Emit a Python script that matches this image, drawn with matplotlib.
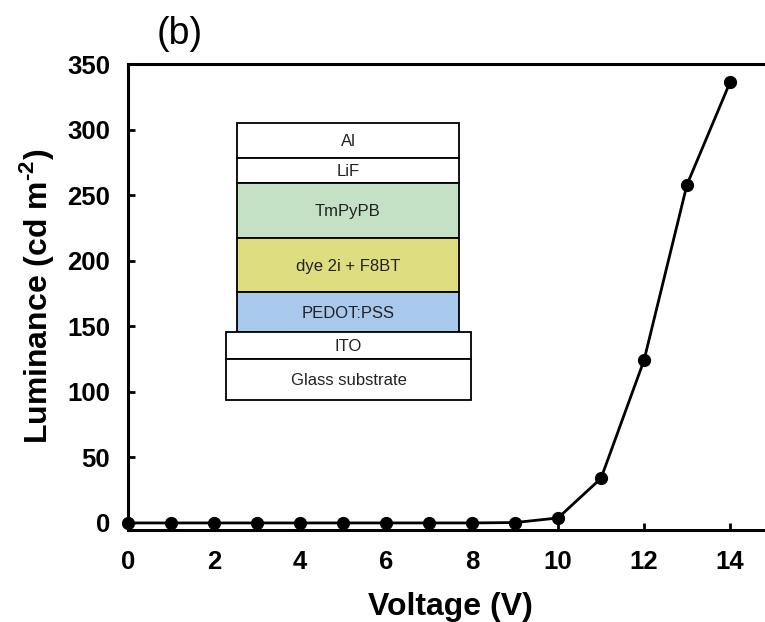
import matplotlib
matplotlib.use('Agg')
import matplotlib.pyplot as plt
from matplotlib.patches import Rectangle

plt.rcParams['font.family'] = ['Liberation Sans', 'DejaVu Sans']
plt.rcParams['mathtext.fontset'] = 'custom'
plt.rcParams['mathtext.rm'] = 'Liberation Sans'
plt.rcParams['mathtext.bf'] = 'Liberation Sans:bold'

# dados
voltagem = [0, 1, 2, 3, 4, 5, 6, 7, 8, 9, 10, 11, 12, 13, 14]
luminancia = [0, 0, 0, 0, 0, 0, 0, 0, 0, 0.3, 3.8, 34, 124, 258, 336]

x_ticks = [0, 2, 4, 6, 8, 10, 12, 14]
y_ticks = [0, 50, 100, 150, 200, 250, 300, 350]

# camadas do dispositivo (de cima para baixo)
camadas = ["Al", "LiF", "TmPyPB", "dye 2i + F8BT", "PEDOT:PSS", "ITO", "Glass substrate"]
cores_camadas = ["white", "white", "#c4e0c5", "#dedd80", "#a8c9ec", "white", "white"]
# limites em pixels (y_topo, y_base, x_esq, x_dir)
geometria = [
    (123, 158, 237, 459),
    (158, 183, 237, 459),
    (183, 238, 237, 459),
    (238, 292, 237, 459),
    (292, 332, 237, 459),
    (332, 359, 226, 471),
    (359, 400, 226, 471),
]

W, H = 765, 622
fig = plt.figure(figsize=(W / 100, H / 100), dpi=100)
ax = fig.add_axes([128 / W, (H - 529.5) / H, 645 / W, (529.5 - 64) / H])

ax.plot(voltagem, luminancia, color='black', lw=2, marker='o', ms=8.5, clip_on=False, zorder=5)

ax.set_xlim(0, 15)
ax.set_ylim(-5, 350)
ax.set_xticks(x_ticks)
ax.set_yticks(y_ticks)
ax.tick_params(direction='in', length=5, width=2, labelsize=18.5)
ax.tick_params(axis='x', pad=15)
ax.tick_params(axis='y', pad=13)
for lab in ax.get_xticklabels() + ax.get_yticklabels():
    lab.set_fontweight('bold')
for s in ['left', 'top', 'bottom']:
    ax.spines[s].set_linewidth(2.2)
ax.spines['right'].set_visible(False)

ax.set_xlabel("Voltage (V)", fontsize=23, fontweight='bold', labelpad=13)
ax.set_ylabel("Luminance (cd m$^{\\mathbf{\u20102}}$)", fontsize=23, fontweight='bold')
ax.yaxis.set_label_coords(-0.111, 0.5)

fig.text(180 / W, 1 - 34 / H, "(b)", fontsize=27, ha='center', va='center')

# esquema do dispositivo
ins = fig.add_axes([0, 0, 1, 1], zorder=10)
ins.set_xlim(0, W)
ins.set_ylim(H, 0)
ins.axis('off')
ins.patch.set_alpha(0)
for nome, cor, (y0, y1, x0, x1) in zip(camadas, cores_camadas, geometria):
    ins.add_patch(Rectangle((x0, y0), x1 - x0, y1 - y0, facecolor=cor, edgecolor='black', lw=1.3))
    ins.text((x0 + x1) / 2, (y0 + y1) / 2 + 1, nome, fontsize=12, ha='center', va='center', color='#222222')

fig.savefig('out.png', dpi=100)
